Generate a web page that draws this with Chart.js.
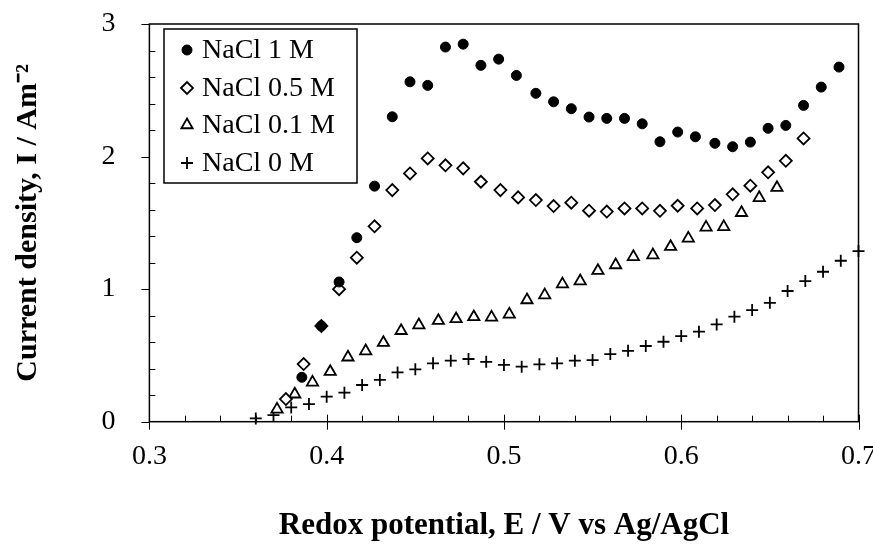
<!DOCTYPE html>
<html>
<head>
<meta charset="utf-8">
<script src="https://cdn.jsdelivr.net/npm/chart.js@4/dist/chart.umd.min.js"></script>
<style>
  html, body { margin: 0; padding: 0; background: #fff; }
  #wrap { width: 873px; height: 545px; }
</style>
</head>
<body>
<div id="wrap"><canvas id="redoxChart" width="873" height="545"></canvas></div>
<script>
// values
const nacl1X = [0.386, 0.397, 0.407, 0.417, 0.427, 0.437, 0.447, 0.457, 0.467, 0.477, 0.487, 0.497, 0.507, 0.518, 0.528, 0.538, 0.548, 0.558, 0.568, 0.578, 0.588, 0.598, 0.608, 0.619, 0.629, 0.639, 0.649, 0.659, 0.669, 0.679, 0.689];
const nacl1Y = [0.335, 0.722, 1.054, 1.388, 1.777, 2.30, 2.564, 2.537, 2.826, 2.848, 2.688, 2.735, 2.612, 2.477, 2.413, 2.361, 2.298, 2.288, 2.288, 2.247, 2.112, 2.185, 2.149, 2.10, 2.074, 2.109, 2.213, 2.235, 2.386, 2.524, 2.675];

const nacl05X = [0.377, 0.387, 0.397, 0.407, 0.417, 0.427, 0.437, 0.447, 0.457, 0.467, 0.477, 0.487, 0.498, 0.508, 0.518, 0.528, 0.538, 0.548, 0.558, 0.568, 0.578, 0.588, 0.598, 0.609, 0.619, 0.629, 0.639, 0.649, 0.659, 0.669];
const nacl05Y = [0.171, 0.435, 0.722, 1.0, 1.237, 1.474, 1.747, 1.873, 1.986, 1.934, 1.911, 1.81, 1.747, 1.692, 1.672, 1.627, 1.652, 1.592, 1.585, 1.609, 1.609, 1.591, 1.629, 1.609, 1.634, 1.715, 1.78, 1.881, 1.968, 2.137];

const nacl01X = [0.372, 0.382, 0.392, 0.402, 0.412, 0.422, 0.432, 0.442, 0.452, 0.463, 0.473, 0.483, 0.493, 0.503, 0.513, 0.523, 0.533, 0.543, 0.553, 0.563, 0.573, 0.584, 0.594, 0.604, 0.614, 0.624, 0.634, 0.644, 0.654];
const nacl01Y = [0.093, 0.207, 0.297, 0.377, 0.486, 0.533, 0.596, 0.686, 0.729, 0.762, 0.775, 0.79, 0.787, 0.81, 0.918, 0.955, 1.038, 1.061, 1.139, 1.182, 1.244, 1.257, 1.32, 1.383, 1.466, 1.47, 1.576, 1.689, 1.765];

const nacl0X = [0.36, 0.37, 0.38, 0.39, 0.40, 0.41, 0.42, 0.43, 0.44, 0.45, 0.46, 0.47, 0.48, 0.49, 0.50, 0.51, 0.52, 0.53, 0.54, 0.55, 0.56, 0.57, 0.58, 0.59, 0.60, 0.61, 0.62, 0.63, 0.64, 0.65, 0.66, 0.67, 0.68, 0.69, 0.70];
const nacl0Y = [0.025, 0.05, 0.108, 0.133, 0.189, 0.219, 0.277, 0.315, 0.372, 0.395, 0.44, 0.46, 0.473, 0.452, 0.428, 0.415, 0.433, 0.44, 0.46, 0.465, 0.51, 0.535, 0.571, 0.603, 0.646, 0.679, 0.734, 0.792, 0.842, 0.897, 0.986, 1.061, 1.131, 1.214, 1.287];

const seriesLabels = ["NaCl 1 M", "NaCl 0.5 M", "NaCl 0.1 M", "NaCl 0 M"];
const xTicks = [0.3, 0.4, 0.5, 0.6, 0.7];
const yTicks = [0, 1, 2, 3];

const SERIF = "'Liberation Serif', 'Times New Roman', serif";

function pts(xs, ys) {
    return xs.map((x, i) => ({ x: x, y: ys[i] }));
}

// box frame + excel style tick marks
const framePlugin = {
    id: "frame",
    beforeDatasetsDraw(chart) {
        const { ctx, chartArea: a, scales } = chart;
        ctx.save();
        ctx.strokeStyle = "#000";
        ctx.lineWidth = 1.5;
        ctx.strokeRect(a.left, a.top, a.right - a.left, a.bottom - a.top);
        ctx.lineWidth = 1;
        ctx.beginPath();
        for (let i = 0; i <= 20; i++) {
            const v = 0.3 + i * 0.02;
            const px = Math.round(scales.x.getPixelForValue(v)) + 0.5;
            if (i % 5 === 0) {
                ctx.moveTo(px, a.bottom - 7);
                ctx.lineTo(px, a.bottom + 8);
            } else {
                ctx.moveTo(px, a.bottom - 6);
                ctx.lineTo(px, a.bottom);
            }
        }
        for (let i = 0; i <= 15; i++) {
            const v = i * 0.2;
            const py = Math.round(scales.y.getPixelForValue(v)) + 0.5;
            if (i % 5 === 0) {
                ctx.moveTo(a.left - 8, py);
                ctx.lineTo(a.left, py);
            } else {
                ctx.moveTo(a.left, py);
                ctx.lineTo(a.left + 6, py);
            }
        }
        ctx.stroke();
        ctx.restore();
    },
};

// boxed legend in the top left corner
const boxLegend = {
    id: "boxLegend",
    afterDraw(chart) {
        const ctx = chart.ctx;
        ctx.save();
        ctx.fillStyle = "#fff";
        ctx.fillRect(164, 29, 193, 154);
        ctx.strokeStyle = "#000";
        ctx.lineWidth = 1.5;
        ctx.strokeRect(164, 29, 193, 154);
        const rows = [50, 88, 125, 163];
        chart.data.datasets.forEach((ds, i) => {
            ctx.fillStyle = ds.backgroundColor;
            ctx.strokeStyle = ds.borderColor;
            ctx.lineWidth = ds.borderWidth;
            Chart.helpers.drawPoint(ctx, {
                pointStyle: ds.pointStyle,
                radius: ds.pointRadius,
                rotation: 0,
                borderWidth: ds.borderWidth,
            }, 187, rows[i]);
            ctx.fillStyle = "#000";
            ctx.font = "28px " + SERIF;
            ctx.textBaseline = "middle";
            ctx.fillText(ds.label, 202, rows[i] + 1);
        });
        ctx.restore();
    },
};

new Chart(document.getElementById("redoxChart").getContext("2d"), {
    type: "scatter",
    data: {
        datasets: [
            {
                label: seriesLabels[0],
                data: pts(nacl1X, nacl1Y),
                pointStyle: "circle",
                pointRadius: 5,
                backgroundColor: "#000",
                borderColor: "#000",
                borderWidth: 1,
                clip: false,
            },
            {
                label: seriesLabels[1],
                data: pts(nacl05X, nacl05Y),
                pointStyle: "rectRot",
                pointRadius: 6,
                backgroundColor: "#fff",
                borderColor: "#000",
                borderWidth: 1.8,
                clip: false,
            },
            {
                label: seriesLabels[2],
                data: pts(nacl01X, nacl01Y),
                pointStyle: "triangle",
                pointRadius: 6.5,
                backgroundColor: "#fff",
                borderColor: "#000",
                borderWidth: 1.8,
                clip: false,
            },
            {
                label: seriesLabels[3],
                data: pts(nacl0X, nacl0Y),
                pointStyle: "cross",
                pointRadius: 6,
                backgroundColor: "#000",
                borderColor: "#000",
                borderWidth: 1.8,
                clip: false,
            },
        ],
    },
    options: {
        responsive: false,
        animation: false,
        layout: { padding: { top: 24, right: 14.5, left: 0, bottom: 0 } },
        plugins: {
            legend: { display: false },
            tooltip: { enabled: false },
        },
        scales: {
            x: {
                type: "linear",
                min: 0.3,
                max: 0.7,
                afterBuildTicks: (s) => { s.ticks = xTicks.map((v) => ({ value: v })); },
                afterFit: (s) => {
                    s.height = 123.3;
                    s.paddingLeft = 0;
                    s.paddingRight = 0;
                },
                grid: { display: false },
                border: { display: false },
                ticks: {
                    color: "#000",
                    padding: 10,
                    maxRotation: 0,
                    font: { family: SERIF, size: 28 },
                    callback: (v) => v.toFixed(1),
                },
                title: {
                    display: true,
                    text: "Redox potential, E / V vs Ag/AgCl",
                    color: "#000",
                    font: { family: SERIF, size: 31, weight: "bold" },
                    padding: { top: 20, bottom: 0 },
                },
            },
            y: {
                type: "linear",
                min: 0,
                max: 3,
                afterBuildTicks: (s) => { s.ticks = yTicks.map((v) => ({ value: v })); },
                afterFit: (s) => {
                    s.width = 149.4;
                    s.paddingTop = 0;
                    s.paddingBottom = 0;
                },
                grid: { display: false },
                border: { display: false },
                ticks: {
                    color: "#000",
                    padding: 26,
                    font: { family: SERIF, size: 28 },
                },
                title: {
                    display: true,
                    text: "Current density, I / Am⁻²",
                    color: "#000",
                    font: { family: SERIF, size: 30, weight: "bold" },
                    padding: { top: 10, bottom: 0 },
                },
            },
        },
    },
    plugins: [framePlugin, boxLegend],
});
</script>
</body>
</html>
